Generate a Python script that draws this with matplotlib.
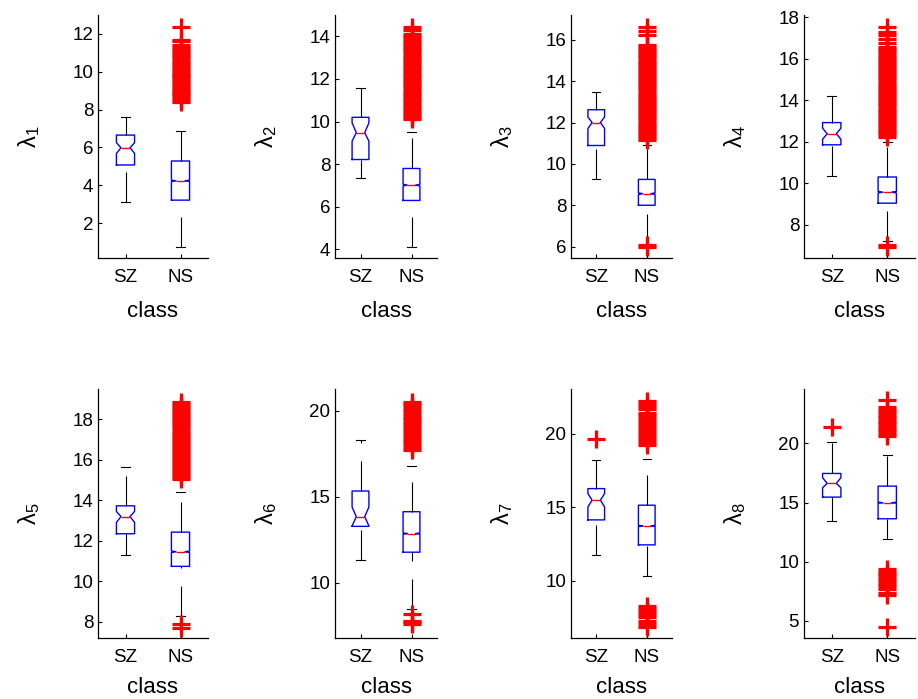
import matplotlib
matplotlib.use("Agg")
import matplotlib.pyplot as plt

plt.rcParams['font.family'] = ['Liberation Sans', 'DejaVu Sans']
plt.rcParams['mathtext.fontset'] = 'custom'
plt.rcParams['mathtext.rm'] = 'Liberation Sans'
plt.rcParams['mathtext.default'] = 'rm'
plt.rcParams['lines.scale_dashes'] = False

classes = ['SZ', 'NS']
ylabels = ['λ$_1$', 'λ$_2$', 'λ$_3$', 'λ$_4$', 'λ$_5$', 'λ$_6$', 'λ$_7$', 'λ$_8$']

# SZ box stats (one value per panel)
sz_lo = [3.09, 7.33, 9.26, 10.33, 11.32, 11.35, 11.74, 13.44]
sz_q1 = [5.07, 8.22, 10.89, 11.85, 12.35, 13.28, 14.14, 15.46]
sz_cilo = [5.68, 9.08, 11.71, 12.12, 12.91, 13.30, 15.02, 16.25]
sz_med = [5.98, 9.48, 12.00, 12.38, 13.20, 13.84, 15.48, 16.62]
sz_cihi = [6.25, 9.94, 12.27, 12.65, 13.45, 14.40, 15.93, 17.10]
sz_q3 = [6.65, 10.20, 12.62, 12.92, 13.73, 15.33, 16.27, 17.46]
sz_hi = [7.58, 11.56, 13.48, 14.21, 15.67, 18.30, 18.24, 20.11]
sz_fliers = [[], [], [], [], [], [], [19.64], [21.35]]

# NS box stats
ns_lo = [0.72, 4.11, 6.15, 7.20, 8.31, 8.46, 10.35, 11.95]
ns_q1 = [3.21, 6.30, 8.00, 9.04, 10.74, 11.78, 12.44, 13.63]
ns_cilo = [4.19, 6.98, 8.52, 9.53, 11.42, 12.82, 13.69, 14.95]
ns_med = [4.23, 7.02, 8.56, 9.57, 11.46, 12.86, 13.73, 14.99]
ns_cihi = [4.27, 7.06, 8.60, 9.61, 11.50, 12.90, 13.77, 15.03]
ns_q3 = [5.28, 7.80, 9.25, 10.30, 12.43, 14.13, 15.14, 16.39]
ns_hi = [6.85, 9.50, 10.90, 12.00, 14.40, 16.80, 18.30, 19.00]
ns_fliers = [
    [8.4, 8.5, 8.6, 8.7, 8.8, 8.9, 9.0, 9.1, 9.2, 9.3, 9.4, 9.5, 9.6, 9.7,
     9.8, 9.9, 10.0, 10.1, 10.2, 10.3, 10.4, 10.5, 10.6, 10.8, 10.9, 11.0,
     11.1, 11.2, 11.3, 11.4, 11.6, 11.7, 12.37],
    [10.1, 10.2, 10.3, 10.4, 10.5, 10.6, 10.7, 10.8, 10.9, 11.0, 11.1, 11.2,
     11.3, 11.4, 11.5, 11.6, 11.7, 11.8, 11.9, 12.0, 12.1, 12.2, 12.3, 12.4,
     12.5, 12.6, 12.7, 12.8, 12.9, 13.0, 13.1, 13.2, 13.3, 13.4, 13.5, 13.6,
     13.7, 13.8, 13.9, 14.0, 14.1, 14.3, 14.45],
    [5.98, 6.06,
     11.15, 11.25, 11.35, 11.45, 11.55, 11.65, 11.75, 11.85, 11.95, 12.05,
     12.15, 12.25, 12.35, 12.45, 12.55, 12.65, 12.75, 12.85, 12.95, 13.05,
     13.15, 13.25, 13.35, 13.45, 13.55, 13.65, 13.75, 13.85, 13.95, 14.05,
     14.15, 14.25, 14.35, 14.45, 14.55, 14.65, 14.75, 14.85, 14.95, 15.05,
     15.15, 15.25, 15.35, 15.45, 15.55, 15.65, 15.75, 16.25, 16.45, 16.6],
    [6.95, 7.02,
     12.25, 12.35, 12.45, 12.55, 12.65, 12.75, 12.85, 12.95, 13.05, 13.15,
     13.25, 13.35, 13.45, 13.55, 13.65, 13.75, 13.85, 13.95, 14.05, 14.15,
     14.25, 14.35, 14.45, 14.55, 14.65, 14.75, 14.85, 14.95, 15.05, 15.15,
     15.25, 15.35, 15.45, 15.55, 15.65, 15.75, 15.85, 15.95, 16.05, 16.15,
     16.25, 16.35, 16.45, 16.55, 16.75, 16.95, 17.15, 17.3, 17.5],
    [7.7, 7.87,
     15.05, 15.15, 15.25, 15.35, 15.45, 15.55, 15.65, 15.75, 15.85, 15.95,
     16.05, 16.15, 16.25, 16.35, 16.45, 16.55, 16.65, 16.75, 16.85, 16.95,
     17.05, 17.15, 17.25, 17.35, 17.45, 17.55, 17.65, 17.75, 17.85, 17.95,
     18.05, 18.15, 18.25, 18.35, 18.45, 18.55, 18.65, 18.75, 18.85],
    [7.6, 7.7, 7.8, 8.2,
     17.7, 17.85, 18.0, 18.15, 18.3, 18.45, 18.6, 18.75, 18.9, 19.05, 19.2,
     19.35, 19.5, 19.65, 19.8, 19.95, 20.1, 20.25, 20.4, 20.52],
    [6.85, 7.05, 7.25, 7.5, 7.7, 7.9, 8.1, 8.28,
     19.25, 19.45, 19.65, 19.85, 20.05, 20.25, 20.45, 20.65, 20.85, 21.05,
     21.25, 21.45, 21.7, 21.9, 22.1, 22.25],
    [4.48, 7.15, 7.38, 7.7, 7.95, 8.15, 8.35, 8.55, 8.75, 8.95, 9.15, 9.35,
     20.62, 20.82, 21.02, 21.22, 21.42, 21.62, 21.82, 22.02, 22.22, 22.42,
     22.62, 22.82, 23.05, 23.7],
]

ylims = [(0.15, 13.0), (3.6, 15.0), (5.45, 17.2), (6.4, 18.1),
         (7.2, 19.5), (6.8, 21.25), (6.1, 23.05), (3.55, 24.6)]
yticks = [[2, 4, 6, 8, 10, 12], [4, 6, 8, 10, 12, 14], [6, 8, 10, 12, 14, 16],
          [8, 10, 12, 14, 16, 18], [8, 10, 12, 14, 16, 18], [10, 15, 20],
          [10, 15, 20], [5, 10, 15, 20]]

# axes placement in pixels (left, right) per column and (top, bottom) per row
W, H = 918, 699
cols = [(98, 208), (335, 437), (571, 672), (804, 915)]
rows = [(15, 258), (389, 638)]
xlabel_pads = [11, 8]

fig = plt.figure(figsize=(W / 100, H / 100), dpi=100)

for i in range(8):
    r, c = divmod(i, 4)
    x0, x1 = cols[c]
    y0, y1 = rows[r]
    ax = fig.add_axes([x0 / W, 1 - y1 / H, (x1 - x0) / W, (y1 - y0) / H])

    stats = [
        dict(whislo=sz_lo[i], q1=sz_q1[i], cilo=sz_cilo[i], med=sz_med[i],
             cihi=sz_cihi[i], q3=sz_q3[i], whishi=sz_hi[i], fliers=sz_fliers[i]),
        dict(whislo=ns_lo[i], q1=ns_q1[i], cilo=ns_cilo[i], med=ns_med[i],
             cihi=ns_cihi[i], q3=ns_q3[i], whishi=ns_hi[i], fliers=ns_fliers[i]),
    ]
    res = ax.bxp(stats, positions=[1, 2], widths=0.33, capwidths=0.165,
                 shownotches=True, manage_ticks=False,
                 boxprops=dict(color='blue', lw=1.0),
                 medianprops=dict(color='red', lw=1.0),
                 whiskerprops=dict(color='black', lw=0.8, linestyle=(0, (21.6, 13))),
                 capprops=dict(color='black', lw=0.8),
                 flierprops=dict(marker='+', markeredgecolor='red', markersize=13.5,
                                 markeredgewidth=2.3, linestyle='none'))
    # MATLAB draws the lower whisker upward from its end, so the dashes start there
    for wl in res['whiskers'][0::2]:
        wl.set_ydata(wl.get_ydata()[::-1])

    ax.set_xlim(0.5, 2.5)
    ax.set_ylim(*ylims[i])
    ax.set_yticks(yticks[i])
    ax.set_xticks([1, 2])
    ax.set_xticklabels(classes)
    ax.tick_params(direction='in', length=3, width=0.8, labelsize=13.5)
    ax.tick_params(axis='x', pad=8)
    for s in ['top', 'right']:
        ax.spines[s].set_visible(False)
    for s in ['left', 'bottom']:
        ax.spines[s].set_linewidth(0.9)
    ax.set_xlabel('class', fontsize=16, labelpad=xlabel_pads[r])
    ax.set_ylabel(ylabels[i], fontsize=17, labelpad=22, rotation=90)

fig.savefig('out.png', dpi=100)
